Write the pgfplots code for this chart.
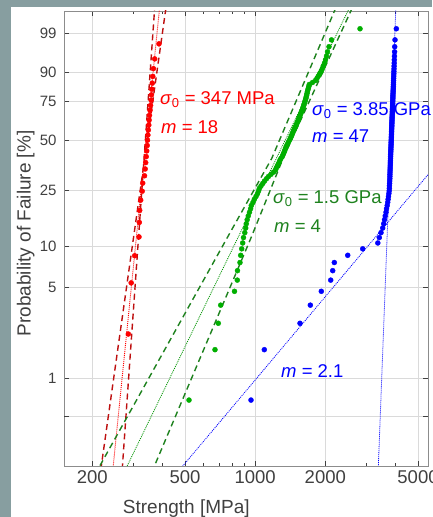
\documentclass[border=0pt]{standalone}
\usepackage{fontspec}
\setmainfont{Liberation Sans}
\usepackage{pgfplots}
\pgfplotsset{compat=1.18}
\usepackage{pgfplotstable}

\definecolor{bg}{RGB}{135,158,160}
\definecolor{gridc}{RGB}{218,218,218}
\definecolor{axc}{RGB}{140,140,140}
\definecolor{txt}{RGB}{64,64,64}
\definecolor{pred}{RGB}{255,0,0}
\definecolor{dred}{RGB}{190,15,15}
\definecolor{pgreen}{RGB}{0,175,0}
\definecolor{dgreen}{RGB}{30,130,30}
\definecolor{pblue}{RGB}{0,0,255}

% red series: F [%] (median ranks, n=31), strength [MPa]
\pgfplotstableread{
F s
2.229 285.4
5.414 293.7
8.599 304.0
11.783 317.3
14.968 318.2
18.153 319.5
21.338 322.6
24.522 327.5
27.707 329.1
30.892 335.0
34.076 337.3
37.261 339.0
40.446 340.7
43.631 342.4
46.815 344.1
50.000 345.1
53.185 346.4
56.369 347.8
59.554 349.5
62.739 350.6
65.924 352.0
69.108 353.7
72.293 355.8
75.478 357.9
78.662 359.0
81.847 360.0
85.032 361.8
88.217 363.6
91.401 365.8
94.586 370.5
97.771 386.6
}\redtable

% green and blue series: F [%] (median ranks, n=100), strengths [MPa]
\pgfplotstableread{
F g b
0.697 520.0 959.7
1.693 672.3 1094.5
2.689 694.6 1557.5
3.685 711.3 1724.9
4.681 815.1 1922.5
5.677 838.0 2109.6
6.673 839.6 2151.7
7.669 860.7 2186.0
8.665 866.7 2496.0
9.661 875.3 2894.9
10.657 884.0 3360.4
11.653 891.0 3410.7
12.649 902.5 3468.4
13.645 910.6 3527.2
14.641 916.0 3562.2
15.637 924.2 3590.5
16.633 934.3 3615.4
17.629 945.4 3644.1
18.625 955.7 3662.2
19.622 962.3 3687.6
20.618 978.6 3706.0
21.614 991.2 3720.0
22.610 1008.3 3734.0
23.606 1023.4 3748.0
24.602 1033.5 3761.0
25.598 1041.8 3766.0
26.594 1059.4 3770.0
27.590 1078.4 3775.0
28.586 1096.7 3779.0
29.582 1118.6 3784.0
30.578 1140.9 3786.6
31.574 1169.4 3789.2
32.570 1198.7 3791.8
33.566 1222.6 3794.4
34.562 1232.3 3797.0
35.558 1244.5 3799.6
36.554 1256.9 3802.2
37.550 1269.4 3804.8
38.546 1278.2 3807.4
39.542 1290.9 3810.0
40.538 1307.6 3812.6
41.534 1316.6 3815.3
42.530 1327.1 3817.9
43.526 1336.3 3820.6
44.522 1345.6 3823.2
45.518 1353.6 3825.8
46.514 1363.0 3828.5
47.510 1376.5 3831.1
48.506 1386.1 3833.8
49.502 1397.1 3836.4
50.498 1408.2 3838.7
51.494 1419.3 3841.0
52.490 1429.2 3843.2
53.486 1439.1 3845.5
54.482 1447.7 3847.8
55.478 1457.7 3850.1
56.474 1466.4 3852.4
57.470 1476.6 3854.6
58.466 1488.3 3856.9
59.462 1500.1 3859.2
60.458 1509.0 3861.5
61.454 1518.0 3863.8
62.450 1527.0 3866.1
63.446 1536.1 3868.4
64.442 1546.8 3870.7
65.438 1554.4 3873.0
66.434 1563.7 3875.3
67.430 1573.0 3877.6
68.426 1582.3 3879.9
69.422 1591.7 3882.2
70.418 1601.2 3884.5
71.414 1609.1 3886.8
72.410 1617.1 3889.2
73.406 1625.1 3891.5
74.402 1633.1 3893.8
75.398 1641.2 3896.1
76.394 1649.3 3898.4
77.390 1655.9 3900.8
78.386 1662.4 3903.1
79.382 1669.0 3905.4
80.378 1675.6 3908.5
81.375 1682.2 3911.6
82.371 1690.6 3914.6
83.367 1698.9 3917.7
84.363 1707.3 3920.8
85.359 1762.2 3923.9
86.355 1815.2 3927.0
87.351 1842.3 3930.0
88.347 1866.1 3933.1
89.343 1892.1 3936.2
90.339 1920.3 3940.1
91.335 1941.3 3944.0
92.331 1960.6 3948.0
93.327 1984.0 3951.9
94.323 2003.8 3955.8
95.319 2023.6 3961.0
96.315 2043.7 3966.0
97.311 2074.3 3971.4
98.307 2126.2 3983.2
99.303 2818.3 4034.0
}\gbtable

\begin{document}
\begin{tikzpicture}[x=1pt,y=1pt]
\path[use as bounding box] (0,0) rectangle (432,517);
\fill[bg] (0,0) rectangle (432,517);
\fill[white] (11,0) rectangle (432,510);
\begin{axis}[
  at={(64pt,51pt)}, anchor=south west,
  scale only axis, width=364pt, height=455pt,
  xmode=log, xmin=151.2, xmax=5518,
  y coord trafo/.code={\pgfmathparse{ln(-ln(1-#1/100))}},
  ymin=0.1962, ymax=99.8916,
  xtick={200,500,1000,2000,5000},
  xticklabels={200,500,1000,2000,5000},
  minor xtick={300,400,600,700,800,900,3000,4000},
  ytick={1,5,10,25,50,75,90,99},
  yticklabels={1,5,10,25,50,75,90,99},
  extra y ticks={0.5}, extra y tick labels={},
  extra y tick style={grid=major},
  xmajorgrids, ymajorgrids,
  major grid style={gridc, line width=0.8pt},
  axis line style={axc, line width=0.7pt},
  tick style={txt, line width=0.6pt},
  tick align=inside,
  major tick length=5pt, minor tick length=3pt,
  xticklabel style={font=\fontsize{18.5}{18.5}\selectfont, text=txt, yshift=-1pt},
  yticklabel style={font=\fontsize{15}{15}\selectfont, text=txt, xshift=-4pt},
  clip=true,
]
% fitted lines and bounds
\addplot[dred, line width=1.4pt, dash pattern=on 6pt off 4pt] coordinates {(205.8,0.1) (415.9,99.95)};
\addplot[dred, line width=1.4pt, dash pattern=on 6pt off 4pt] coordinates {(261.4,0.1) (371.3,99.95)};
\addplot[pred, line width=0.9pt, dash pattern=on 1pt off 1pt] coordinates {(235.5,0.1) (390.0,99.95)};

\addplot[dgreen, line width=1.4pt, dash pattern=on 6pt off 4pt] coordinates {(169.4,0.1) (212.2,0.2061) (779.8,12.617) (1177.6,39.446) (2201,99.9045) (2245,99.95)};
\addplot[dgreen, line width=1.4pt, dash pattern=on 6pt off 4pt] coordinates {(308.3,0.1) (365.5,0.2061) (966.4,11.937) (1316.7,39.446) (2553,99.862) (2648,99.95)};
\addplot[pgreen!85!black, line width=0.8pt, dash pattern=on 1pt off 1pt] coordinates {(229.4,0.1) (2576,99.95)};

\addplot[pblue, line width=0.8pt, dash pattern=on 1pt off 1pt] coordinates {(3324,0.1) (4020,99.95)};
\addplot[pblue, line width=0.8pt, dash pattern=on 1pt off 1pt] coordinates {(341.4,0.1) (10184,75)};

% data
\addplot[only marks, mark=*, mark size=2.5pt, pred, mark options={draw=pred, fill=pred}] table[x=s, y=F] {\redtable};
\addplot[only marks, mark=*, mark size=2.5pt, pgreen, mark options={draw=pgreen, fill=pgreen}] table[x=g, y=F] {\gbtable};
\addplot[only marks, mark=*, mark size=2.5pt, pblue, mark options={draw=pblue, fill=pblue}] table[x=b, y=F] {\gbtable};
\end{axis}
% labels
\node[rotate=90, anchor=base, text=txt, font=\fontsize{19}{19}\selectfont] at (30.7,283.5) {Probability of Failure [\%]};
\node[anchor=base, text=txt, font=\fontsize{19}{19}\selectfont] at (186.3,4) {Strength [MPa]};
% annotations
\begin{scope}[every node/.style={anchor=west, inner sep=0pt, font=\fontsize{18.5}{18.5}\selectfont}]
\node[text=pred] at (160,417) {\textit{σ}\textsubscript{0} = 347 MPa};
\node[text=pred] at (161,390) {\textit{m} = 18};
\node[text=pblue] at (312,406) {\textit{σ}\textsubscript{0} = 3.85 GPa};
\node[text=pblue] at (312,381) {\textit{m} = 47};
\node[text=dgreen] at (273,318) {\textit{σ}\textsubscript{0} = 1.5 GPa};
\node[text=dgreen] at (274,291) {\textit{m} = 4};
\node[text=pblue] at (281,146) {\textit{m} = 2.1};
\end{scope}
\end{tikzpicture}
\end{document}
